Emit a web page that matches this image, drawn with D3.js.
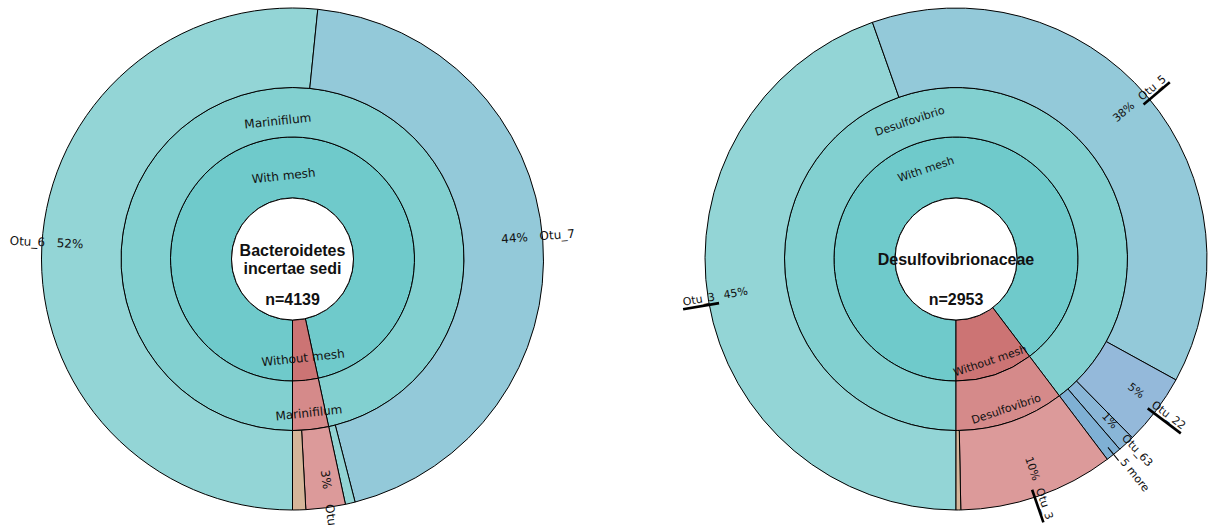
<!DOCTYPE html>
<html><head><meta charset="utf-8">
<script src="https://cdn.jsdelivr.net/npm/d3@7"></script>
<style>body{margin:0;background:#fff;} svg{display:block;}</style>
</head><body>
<svg id="chart" width="1208" height="525"></svg>
<script>
// ---------------- data ----------------
const leftTitle = ["Bacteroidetes", "incertae sedi"];
const leftTotal = 4139;
const leftGroups = ["With mesh", "Without mesh"];
const leftGenera = ["Marinifilum", "Marinifilum"];
const leftOtuNames = ["Otu_6", "Otu_7", "", "Otu_", ""];
const leftOtuGroup = [0, 0, 0, 1, 1];
const leftOtuCounts = [2136, 1837, 26, 105, 35];
const leftOtuMarked = [0, 0, 0, 0, 0];

const rightTitle = ["Desulfovibrionaceae"];
const rightTotal = 2953;
const rightGroups = ["With mesh", "Without mesh"];
const rightGenera = ["Desulfovibrio", "Desulfovibrio"];
const rightOtuNames = ["Otu_3", "Otu_5", "Otu_22", "Otu_63", "5 more", "Otu_3", ""];
const rightOtuGroup = [0, 0, 0, 0, 0, 1, 1];
const rightOtuCounts = [1317, 1134, 136, 32, 30, 295, 9];
const rightOtuMarked = [1, 1, 1, 0, 0, 1, 0];

// ---------------- styles ----------------
const groupColors = ["#6fcacb", "#cc7474"];
const genusColors = ["#82d0d0", "#d58a8a"];
const leftOtuColors = ["#93d5d6", "#93c9d9", "#92d4d4", "#dc9a9a", "#d5b599"];
const rightOtuColors = ["#93d5d6", "#93c9d9", "#94b9da", "#89b6d7", "#7fb0d4", "#dc9a9a", "#d5b599"];

const svg = d3.select("#chart");
const R0 = 61, R1 = 122, R2 = 171.5, R3 = 251;
const deg = a => a * 180 / Math.PI;

function drawChart(cfg) {
  const g = svg.append("g").attr("transform", `translate(${cfg.cx},${cfg.cy})`);
  const angle = d3.scaleLinear().domain([0, cfg.total]).range([Math.PI, 3 * Math.PI]);
  const arc = d3.arc();

  const gTot = cfg.groups.map((_, i) => d3.sum(cfg.counts.filter((c, j) => cfg.otuGroup[j] === i)));
  const gCum = d3.cumsum([0, ...gTot]);
  const groupSegs = cfg.groups.map((name, i) => ({name, i, a0: angle(gCum[i]), a1: angle(gCum[i + 1])}));
  const oCum = d3.cumsum([0, ...cfg.counts]);
  const otuSegs = cfg.names.map((name, i) => ({name, i, a0: angle(oCum[i]), a1: angle(oCum[i + 1]), count: cfg.counts[i]}));

  const ring = (segs, r0, r1, colorFn) => g.append("g").selectAll("path").data(segs).join("path")
    .attr("d", d => arc({innerRadius: r0, outerRadius: r1, startAngle: d.a0, endAngle: d.a1}))
    .attr("fill", colorFn).attr("stroke", "#000").attr("stroke-width", 1);

  ring(groupSegs, R0, R1, d => groupColors[d.i]);
  ring(groupSegs, R1, R2, d => genusColors[d.i]);
  ring(otuSegs, R2, R3, d => cfg.otuColors[d.i]);

  function tangLabel(text, a, r) {
    let m = ((deg(a) % 360) + 360) % 360;
    const bottom = m > 90 && m < 270;
    const t = bottom ? `rotate(${m - 180}) translate(0,${r})` : `rotate(${m}) translate(0,${-r})`;
    g.append("text").attr("transform", t)
      .attr("text-anchor", "middle").attr("dominant-baseline", "central")
      .attr("dy", bottom ? cfg.dyBottom : cfg.dyTop)
      .attr("font-family", "DejaVu Sans").attr("font-size", cfg.fs).attr("fill", "#111")
      .text(text);
  }
  groupSegs.forEach(d => tangLabel(d.name, (d.a0 + d.a1) / 2, (R0 + R1) / 2 + cfg.shift1));
  groupSegs.forEach(d => tangLabel(cfg.genera[d.i], (d.a0 + d.a1) / 2, (R1 + R2) / 2 + cfg.shift2));

  otuSegs.forEach(d => {
    if (!d.name) return;
    const m = ((deg((d.a0 + d.a1) / 2) % 360) + 360) % 360;
    const right = m < 180;
    const lg = g.append("g").attr("transform", right ? `rotate(${m - 90})` : `rotate(${m + 90})`);
    const s = right ? 1 : -1;
    const isMore = /more$/.test(d.name);
    if (isMore) {
      lg.append("line").attr("x1", s * (R3 - 9)).attr("x2", s * (R3 + 8)).attr("y1", 0).attr("y2", 0)
        .attr("stroke", "#000").attr("stroke-width", 1);
    }
    const nr = isMore ? R3 + 10 : R3 - cfg.nameInset;
    const txt = lg.append("text").attr("x", s * nr).attr("y", 0)
      .attr("text-anchor", right ? "start" : "end")
      .attr("font-family", "DejaVu Sans").attr("font-size", cfg.fs).attr("fill", "#111")
      .text(d.name);
    if (cfg.marked[d.i]) {
      const len = txt.node().getComputedTextLength();
      const x0 = right ? nr - 1 : -nr - len - 1;
      const x1 = right ? nr + len + 1 : -nr + 3;
      lg.append("line").attr("x1", x0).attr("x2", x1).attr("y1", 3.5).attr("y2", 3.5)
        .attr("stroke", "#000").attr("stroke-width", 2.6);
    }
    if (!isMore) {
      lg.append("text").attr("x", s * 223).attr("y", 0)
        .attr("text-anchor", "middle")
        .attr("font-family", "DejaVu Sans").attr("font-size", cfg.fs).attr("fill", "#111")
        .text(Math.round(d.count / cfg.total * 100) + "%");
    }
  });

  g.append("circle").attr("r", R0).attr("fill", "#fff").attr("stroke", "#000").attr("stroke-width", 1);
  const n = cfg.title.length;
  cfg.title.forEach((t, i) => {
    g.append("text").attr("x", 0).attr("y", 6 - 9 * (n - 1) + 18 * i)
      .attr("text-anchor", "middle").attr("font-family", "Liberation Sans, Arial, sans-serif")
      .attr("font-weight", "bold").attr("font-size", 16).attr("fill", "#111").text(t);
  });
  g.append("text").attr("x", 0).attr("y", 46)
    .attr("text-anchor", "middle").attr("font-family", "Liberation Sans, Arial, sans-serif")
    .attr("font-weight", "bold").attr("font-size", 16).attr("fill", "#111").text("n=" + cfg.total);
}

drawChart({cx: 292.5, cy: 259, total: leftTotal, title: leftTitle, groups: leftGroups, genera: leftGenera,
  names: leftOtuNames, otuGroup: leftOtuGroup, counts: leftOtuCounts, marked: leftOtuMarked,
  otuColors: leftOtuColors, fs: 12, nameInset: 3, shift1: 0, shift2: 0, dyTop: 8, dyBottom: 8});
drawChart({cx: 956, cy: 259, total: rightTotal, title: rightTitle, groups: rightGroups, genera: rightGenera,
  names: rightOtuNames, otuGroup: rightOtuGroup, counts: rightOtuCounts, marked: rightOtuMarked,
  otuColors: rightOtuColors, fs: 11, nameInset: 7, shift1: 9.5, shift2: 5, dyTop: 6.5, dyBottom: 6.5});
</script>
</body></html>
